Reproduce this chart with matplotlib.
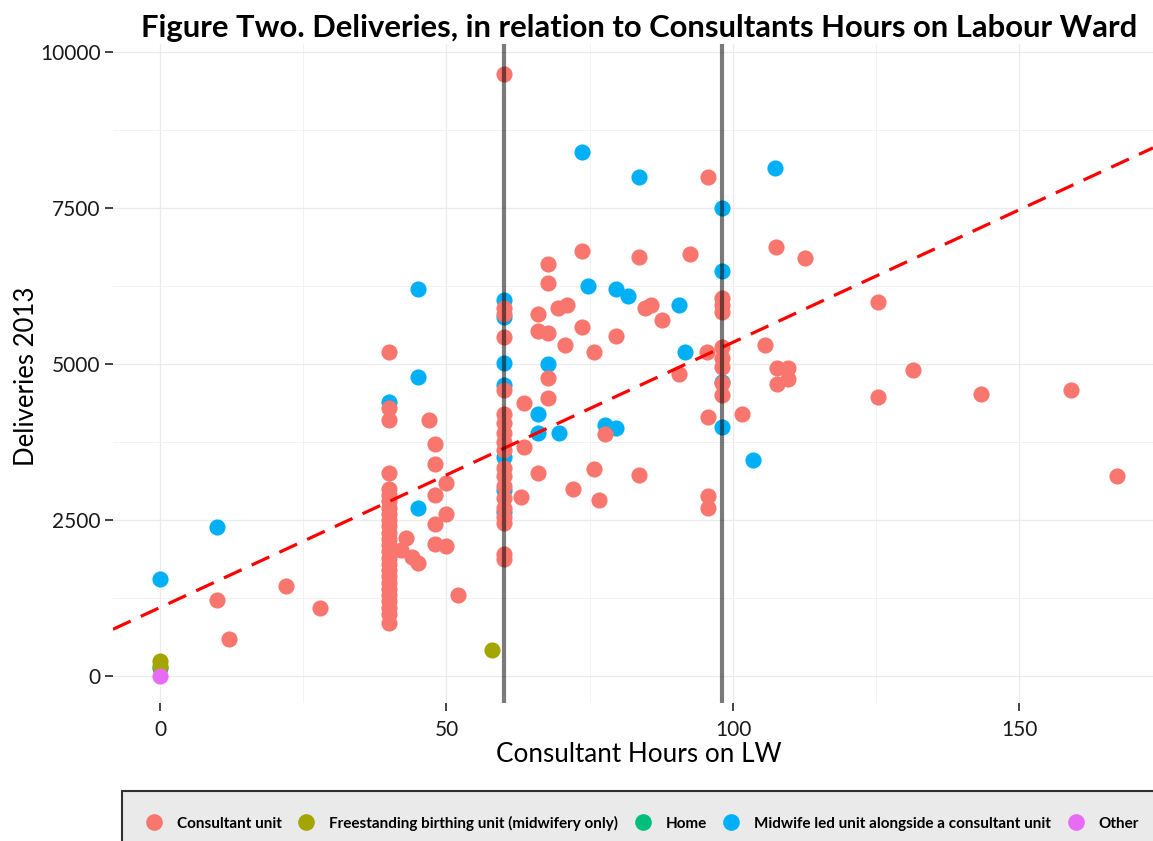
import matplotlib
matplotlib.use("Agg")
import matplotlib.pyplot as plt
from matplotlib.lines import Line2D
from matplotlib.ticker import MultipleLocator

plt.rcParams["font.family"] = ["Lato", "DejaVu Sans"]
plt.rcParams["lines.scale_dashes"] = False

# Consultant unit
cu_x = [10, 12, 22, 28,
        40, 40, 40, 40, 40, 40, 40, 40, 40, 40, 40, 40, 40, 40, 40, 40,
        40, 40, 40, 40, 40, 40, 40, 40, 40, 40,
        43, 42, 44, 45, 47, 48, 48, 50, 48, 50, 48, 48, 50, 52,
        60, 60, 60, 60, 60, 60, 60, 60, 60, 60, 60, 60, 60, 60, 60, 60,
        60, 60, 60,
        63.5, 63.5, 63, 66, 72, 67.8, 67.8, 66, 66, 67.8, 70.7, 69.5, 71,
        67.8, 73.6, 67.7, 73.6, 75.7, 76.6, 77.7, 75.7, 79.6, 83.6, 83.6,
        84.6, 85.7, 87.6, 90.6, 92.5, 95.6, 95.5, 95.6, 95.6, 95.6,
        98, 98, 98, 98, 98, 98, 98, 98,
        101.6, 107.5, 112.6, 105.6, 107.7, 109.6, 107.7, 109.6,
        125.3, 125.3, 131.4, 143.3, 159, 167]
cu_y = [1220, 590, 1440, 1100,
        5200, 4300, 4100, 3250, 3000, 2900, 2800, 2700, 2600, 2500, 2400,
        2300, 2200, 2100, 2000, 1900, 1800, 1700, 1600, 1500, 1400, 1300,
        1200, 1100, 1000, 850,
        2210, 2020, 1910, 1810, 4100, 3720, 3400, 3090, 2900, 2600, 2440,
        2120, 2080, 1300,
        9650, 5900, 5800, 5430, 4580, 4200, 4050, 3900, 3750, 3620, 3330,
        3200, 3050, 2850, 2700, 2550, 2450, 1950, 1880,
        4370, 3670, 2870, 3250, 3000, 4770, 4450, 5800, 5530, 5500, 5300,
        5900, 5950, 6300, 5600, 6600, 6810, 3320, 2820, 3880, 5200, 5450,
        6710, 3220, 5900, 5950, 5700, 4840, 6760, 8000, 5190, 4150, 2890,
        2690,
        6060, 5950, 5830, 5270, 5100, 4950, 4690, 4500,
        4200, 6880, 6700, 5300, 4940, 4940, 4680, 4760,
        6000, 4470, 4900, 4520, 4580, 3200]

# Freestanding birthing unit (midwifery only)
fb_x = [0, 0, 58]
fb_y = [240, 160, 420]

# Home
home_x = [0]
home_y = [130]

# Midwife led unit alongside a consultant unit
ml_x = [0, 10, 40, 45, 45, 45,
        60, 60, 60, 60, 60, 60, 60,
        66, 66, 69.6, 67.7, 74.7, 73.6, 77.7, 79.6, 79.6, 81.7, 83.6,
        90.6, 91.6, 98, 98, 98, 98, 103.5, 107.3]
ml_y = [1555, 2390, 4400, 4790, 2690, 6200,
        6025, 5750, 5015, 4660, 3510, 2980, 2630,
        4200, 3890, 3900, 5000, 6250, 8400, 4020, 3970, 6200, 6090, 8000,
        5950, 5190, 7510, 6490, 4710, 3990, 3460, 8140]

# Other
other_x = [0]
other_y = [0]

# linear fit and reference lines
fit_intercept = 1100
fit_slope = 42.5
ref_hours = [60, 98]

categories = ["Consultant unit", "Freestanding birthing unit (midwifery only)",
              "Home", "Midwife led unit alongside a consultant unit", "Other"]
colors = ["#F8766D", "#A3A500", "#00BF7D", "#00B0F6", "#E76BF3"]

fig = plt.figure(figsize=(11.53, 8.41), dpi=100)
ax = fig.add_axes([113 / 1153, 1 - 703 / 841, 1 - 113 / 1153, (703 - 44) / 841])

ms = 135
ax.scatter(ml_x, ml_y, s=ms, color=colors[3], lw=0, zorder=3)
ax.scatter(home_x, home_y, s=ms, color=colors[2], lw=0, zorder=3)
ax.scatter(fb_x, fb_y, s=ms, color=colors[1], lw=0, zorder=3)
ax.scatter(cu_x, cu_y, s=ms, color=colors[0], lw=0, zorder=3)
ax.scatter(other_x, other_y, s=ms, color=colors[4], lw=0, zorder=3)

ax.axline((0, fit_intercept), slope=fit_slope, color="red", lw=2.3,
          dashes=(14, 8), zorder=4)
for xv in ref_hours:
    ax.axvline(xv, color="black", alpha=0.52, lw=3, zorder=5)

ax.set_xlim(-8.2, 173.3)
ax.set_ylim(-430, 10130)
ax.xaxis.set_major_locator(MultipleLocator(50))
ax.xaxis.set_minor_locator(MultipleLocator(25))
ax.yaxis.set_major_locator(MultipleLocator(2500))
ax.yaxis.set_minor_locator(MultipleLocator(1250))
ax.grid(which="major", color="#EBEBEB", lw=0.9)
ax.grid(which="minor", color="#F2F2F2", lw=0.7)
ax.set_axisbelow(True)
for sp in ax.spines.values():
    sp.set_visible(False)
ax.tick_params(which="major", length=6, width=1.2, color="#222222",
               labelsize=15, labelcolor="#1a1a1a")
ax.tick_params(axis="x", pad=6)
ax.tick_params(axis="y", pad=3)
ax.tick_params(which="minor", length=0)

fig.text(639 / 1153, 1 - 28 / 841,
         "Figure Two. Deliveries, in relation to Consultants Hours on Labour Ward",
         ha="center", va="center", fontsize=22.3, fontweight="bold")
fig.text(639 / 1153, 1 - 755 / 841, "Consultant Hours on LW",
         ha="center", va="center", fontsize=18.8)
fig.text(27 / 1153, 1 - 376 / 841, "Deliveries 2013", rotation=90,
         ha="center", va="center", fontsize=18.5)

handles = [Line2D([], [], marker="o", ls="", markersize=12, color=c,
                  markeredgewidth=0) for c in colors]
leg = fig.legend(handles, categories, loc="upper left", ncol=5,
                 bbox_to_anchor=(122 / 1153, 1 - 791 / 841), borderaxespad=0,
                 frameon=True, fancybox=False, facecolor="#E5E5E5",
                 edgecolor="black", borderpad=1.6, handletextpad=1.0,
                 columnspacing=1.1, handlelength=1.0,
                 prop={"weight": "bold", "size": 11})
leg.get_frame().set_linewidth(1.5)

fig.savefig("out.png", dpi=100)
